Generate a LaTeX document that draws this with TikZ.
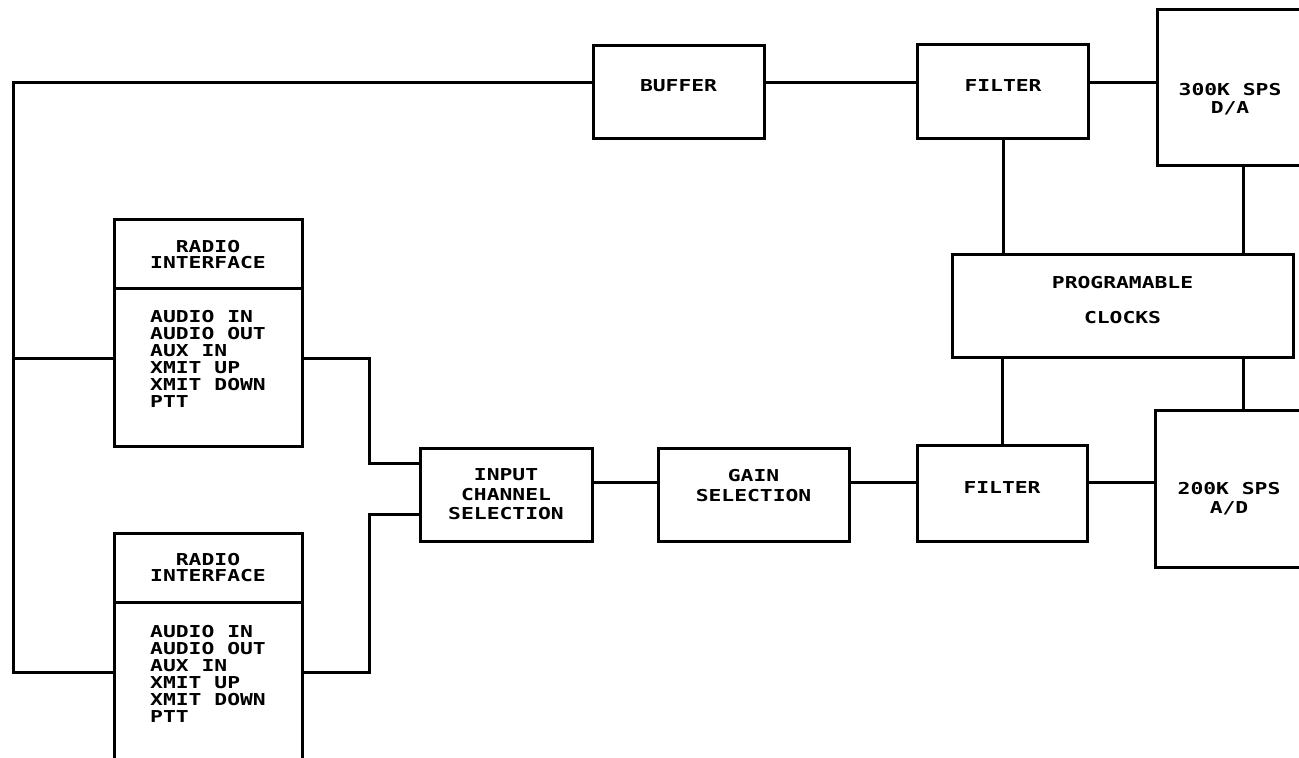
\documentclass[tikz,border=0pt]{standalone}
\usepackage{fontspec}
\newfontfamily\plotfont[FakeStretch=1.3]{DejaVu Sans Mono}
\usetikzlibrary{positioning}

\begin{document}
\begin{tikzpicture}[x=0.5pt,y=-0.5pt,line width=1.5pt,
  every node/.style={font=\plotfont\bfseries\fontsize{8.2}{9.5}\selectfont,align=center},
  blk/.style={draw,outer sep=0pt,inner sep=0pt},
  radiohead/.style={blk,minimum width=94pt,minimum height=34.5pt,
    font=\plotfont\bfseries\fontsize{8.2}{8}\selectfont},
  radiobody/.style={blk,minimum width=94pt,align=left,
    font=\plotfont\bfseries\fontsize{8.2}{8.5}\selectfont}]
\useasboundingbox (0,0) rectangle (1299,758);
% top row
\node[blk,minimum width=85.5pt,minimum height=46.5pt,text depth=6.5pt] (buffer) at (678.5,92.5) {BUFFER};
\node[blk,minimum width=85.5pt,minimum height=47pt,text depth=6pt] (filtA) at (1003,92) {FILTER};
\node[blk,minimum width=73pt,minimum height=78pt,text height=26pt,
  font=\plotfont\bfseries\fontsize{8.2}{9}\selectfont] (dac) at (1230,88) {300K SPS\\D/A};
\node[blk,minimum width=170.5pt,minimum height=51.5pt,text depth=7pt] (clocks) at (1122.5,306.5) {PROGRAMABLE\\[8pt]CLOCKS};
% bottom row
\node[blk,minimum width=86pt,minimum height=46.5pt,
  font=\plotfont\bfseries\fontsize{8.2}{9.75}\selectfont] (input) at (506,494.5) {INPUT\\CHANNEL\\SELECTION};
\node[blk,minimum width=95.5pt,minimum height=46.5pt,text depth=9.5pt,
  font=\plotfont\bfseries\fontsize{8.2}{10}\selectfont] (gain) at (753.5,494.5) {GAIN\\SELECTION};
\node[blk,minimum width=85pt,minimum height=48pt,text depth=5pt] (filtB) at (1002,493) {FILTER};
\node[blk,minimum width=74pt,minimum height=78pt,text height=25pt] (adc) at (1229,489) {200K SPS\\A/D};
% radio interfaces
\node[radiohead] (radioAh) at (208,254.5) {RADIO\\INTERFACE};
\node[radiobody,minimum height=78.5pt,text depth=8.5pt,below=0pt of radioAh] (radioA)
  {AUDIO IN\\AUDIO OUT\\AUX IN\\XMIT UP\\XMIT DOWN\\PTT};
\node[radiohead] (radioBh) at (208,567.5) {RADIO\\INTERFACE};
\node[radiobody,minimum height=80pt,text depth=8.5pt,below=0pt of radioBh] (radioB)
  {AUDIO IN\\AUDIO OUT\\AUX IN\\XMIT UP\\XMIT DOWN\\PTT};
% wiring
\coordinate (busTop) at (13,83);
\coordinate (busBot) at (13,672);
\coordinate (tapA) at (13,359);
\coordinate (jogA) at (369,463);
\coordinate (jogB) at (369,514);
\coordinate (sigLine) at (0,482);
\coordinate (clkTap) at (1243,0);
\draw (radioB.west |- busBot) -- (busBot) -- (busTop) -- (buffer.west |- busTop);
\draw (tapA) -- (radioA.west |- tapA);
\draw (buffer.east |- busTop) -- (filtA.west |- busTop);
\draw (filtA.east |- busTop) -- (dac.west |- busTop);
\draw (radioA.east |- tapA) -| (jogA) -- (input.west |- jogA);
\draw (radioB.east |- busBot) -| (jogB) -- (input.west |- jogB);
\draw (input.east |- sigLine) -- (gain.west |- sigLine);
\draw (gain.east |- sigLine) -- (filtB.west |- sigLine);
\draw (filtB.east |- sigLine) -- (adc.west |- sigLine);
\draw (filtA.south) -- (filtA.south |- clocks.north);
\draw (filtB.north |- clocks.south) -- (filtB.north);
\draw (dac.south -| clkTap) -- (clocks.north -| clkTap);
\draw (clocks.south -| clkTap) -- (adc.north -| clkTap);
\end{tikzpicture}
\end{document}
